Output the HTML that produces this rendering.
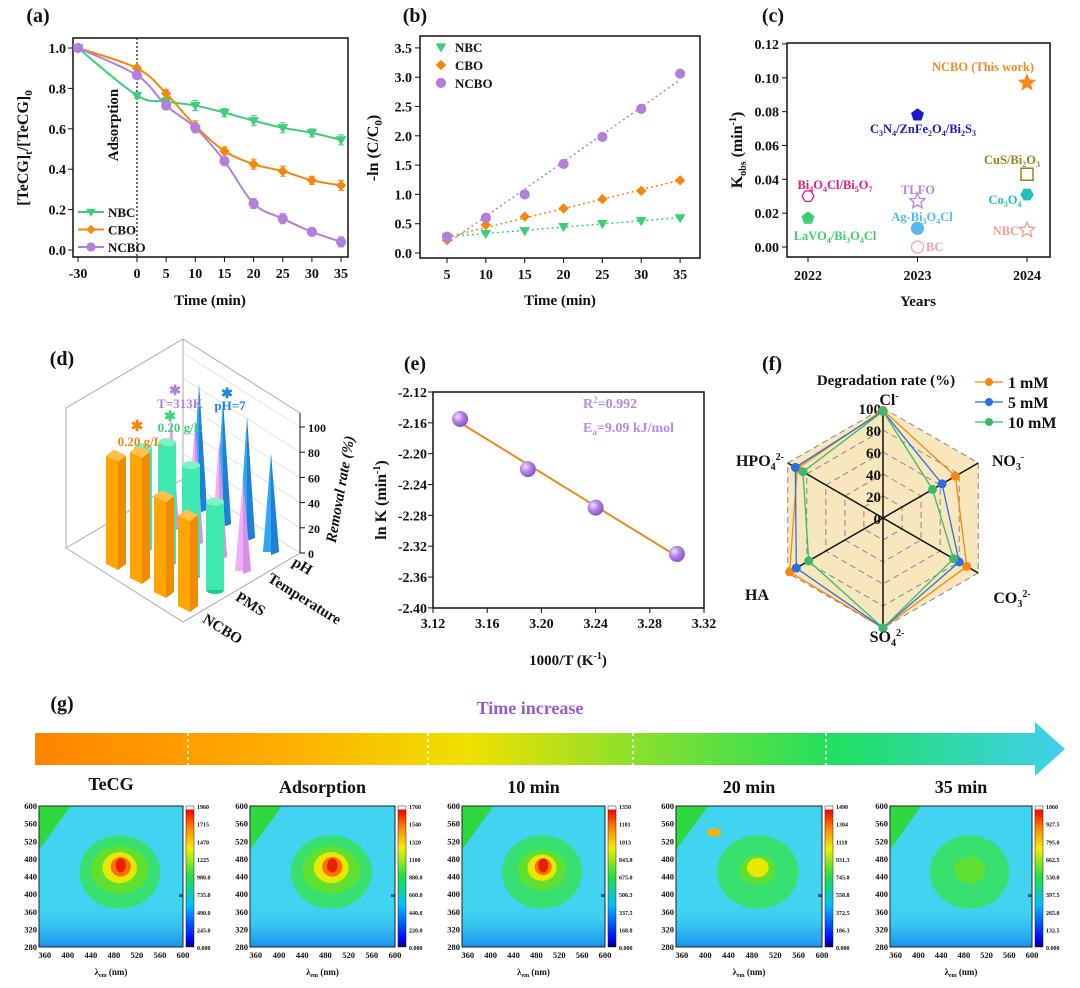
<!DOCTYPE html>
<html><head><meta charset="utf-8">
<style>
html,body{margin:0;padding:0;background:#fff;}
svg{display:block;font-family:"Liberation Serif","Noto Serif CJK SC",serif;font-weight:bold;}
</style></head>
<body>
<svg id="fig" width="1080" height="988" viewBox="0 0 1080 988" xmlns="http://www.w3.org/2000/svg">
<defs>
<linearGradient id="arrowGrad" x1="0" x2="1" y1="0" y2="0">
<stop offset="0" stop-color="#ff8400"/><stop offset="0.25" stop-color="#ffb000"/><stop offset="0.42" stop-color="#f0e000"/><stop offset="0.6" stop-color="#80e030"/><stop offset="0.78" stop-color="#20e060"/><stop offset="1" stop-color="#40d0f0"/>
</linearGradient>
<linearGradient id="cbGrad" x1="0" x2="0" y1="1" y2="0">
<stop offset="0" stop-color="#000060"/><stop offset="0.05" stop-color="#0000ff"/><stop offset="0.3" stop-color="#00c0ff"/><stop offset="0.5" stop-color="#20e040"/><stop offset="0.7" stop-color="#f0f000"/><stop offset="0.85" stop-color="#ff8000"/><stop offset="0.97" stop-color="#ff0000"/><stop offset="0.98" stop-color="#ffffff"/><stop offset="1" stop-color="#ffffff"/>
</linearGradient>
<radialGradient id="sphere" cx="0.35" cy="0.35" r="0.7"><stop offset="0" stop-color="#f0e0ff"/><stop offset="0.5" stop-color="#b080e0"/><stop offset="1" stop-color="#8a50c8"/></radialGradient>
<linearGradient id="bottomBlue" x1="0" x2="0" y1="0" y2="1"><stop offset="0" stop-color="#40d0f0" stop-opacity="0"/><stop offset="1" stop-color="#1890f0"/></linearGradient>
</defs>
<g id="root"></g>
</svg>
<script>
const NS='http://www.w3.org/2000/svg';
const root=document.getElementById('root');
function el(tag,attrs,parent,txt){const e=document.createElementNS(NS,tag);for(const k in attrs)e.setAttribute(k,attrs[k]);if(txt!==undefined)e.textContent=txt;(parent||root).appendChild(e);return e;}
function grp(name,parent){const g=el('g',{},parent);return g;}
function smooth(pts){let d='M'+pts[0][0]+','+pts[0][1];for(let i=0;i<pts.length-1;i++){const p0=pts[i-1]||pts[i],p1=pts[i],p2=pts[i+1],p3=pts[i+2]||p2;const c1=[p1[0]+(p2[0]-p0[0])/6,p1[1]+(p2[1]-p0[1])/6],c2=[p2[0]-(p3[0]-p1[0])/6,p2[1]-(p3[1]-p1[1])/6];d+=' C'+c1+' '+c2+' '+p2;}return d;}
function marker(shape,x,y,r,color,g,fill){
  fill=fill===undefined?color:fill;
  if(shape==='circle')return el('circle',{cx:x,cy:y,r:r,fill:fill,stroke:color,'stroke-width':1.2},g);
  if(shape==='diamond')return el('polygon',{points:`${x},${y-r} ${x+r},${y} ${x},${y+r} ${x-r},${y}`,fill:fill,stroke:color},g);
  if(shape==='tri')return el('polygon',{points:`${x-r},${y-r*0.7} ${x+r},${y-r*0.7} ${x},${y+r}`,fill:fill,stroke:color},g);
  if(shape==='square')return el('rect',{x:x-r,y:y-r,width:2*r,height:2*r,fill:fill,stroke:color,'stroke-width':1.5},g);
  let n=shape==='pent'?5:shape==='hex'?6:10,pts=[];
  for(let i=0;i<n;i++){const a=-Math.PI/2+i*2*Math.PI/n+(shape==='hex'?Math.PI/6:0);const rr=shape==='star'?(i%2?r*0.45:r):r;pts.push((x+rr*Math.cos(a)).toFixed(1)+','+(y+rr*Math.sin(a)).toFixed(1));}
  return el('polygon',{points:pts.join(' '),fill:fill,stroke:color,'stroke-width':1.3},g);
}
function txt(x,y,s,size,g,opt){opt=opt||{};const t=el('text',Object.assign({x:x,y:y,'font-size':size,fill:'#111','text-anchor':'middle'},opt),g,s);return t;}

/* ================= Panel (a) ================= */
const aTimes=[-30,0,5,10,15,20,25,30,35];
const aNBC=[1,0.765,0.735,0.715,0.68,0.64,0.605,0.58,0.545];
const aCBO=[1,0.9,0.775,0.615,0.49,0.425,0.39,0.345,0.32];
const aNCBO=[1,0.865,0.715,0.605,0.44,0.23,0.155,0.09,0.04];
const aErr=[0,0.015,0.02,0.025,0.02,0.025,0.025,0.02,0.025];
const aYTicks=[0,0.2,0.4,0.6,0.8,1.0];
const aXTicks=[-30,0,5,10,15,20,25,30,35];
/* ================= Panel (b) ================= */
const bTimes=[5,10,15,20,25,30,35];
const bNBC=[0.28,0.33,0.38,0.45,0.50,0.55,0.60];
const bCBO=[0.22,0.48,0.62,0.76,0.92,1.06,1.24];
const bNCBO=[0.28,0.60,1.00,1.52,1.98,2.46,3.06];
const bYTicks=[0,0.5,1.0,1.5,2.0,2.5,3.0,3.5];
const bXTicks=[5,10,15,20,25,30,35];
/* ================= Panel (c) ================= */
const cYears=[2024,2023,2024,2024,2024,2022,2022,2023,2023,2023];
const cK=[0.097,0.078,0.043,0.031,0.010,0.030,0.017,0.027,0.011,0.000];
const cYTicks=[0,0.02,0.04,0.06,0.08,0.10,0.12];
const cXTicks=[2022,2023,2024];
/* ================= Panel (d) ================= */
const dSeries=['NCBO','PMS','Temperature','pH'];
const dOrange=[86,100,76,72];
const dGreen=[80,95,88,70];
const dPink=[92,98,94,72];
const dBlue=[100,98,96,78];
const dZTicks=[0,20,40,60,80,100];
/* ================= Panel (e) ================= */
const eX=[3.14,3.19,3.24,3.30];
const eY=[-2.155,-2.22,-2.27,-2.33];
const eYTicks=[-2.12,-2.16,-2.20,-2.24,-2.28,-2.32,-2.36,-2.40];
const eXTicks=[3.12,3.16,3.20,3.24,3.28,3.32];
/* ================= Panel (f) ================= */
const fAxes=['Cl','NO3','CO3','SO4','HA','HPO4'];
const f1mM=[98,76,88,100,98,90];
const f5mM=[97,62,80,100,91,92];
const f10mM=[97,52,74,100,78,84];
const fRTicks=[0,20,40,60,80,100];
/* ================= Panel (g) ================= */
const gTitles=['TeCG','Adsorption','10 min','20 min','35 min'];
const gMax=[1960,1760,1350,1490,1060];
const gPeak=[1.0,1.0,0.85,0.62,0.55];
const gXTicks=[360,400,440,480,520,560,600];
const gYTicks=[280,320,360,400,440,480,520,560,600];

/* ---------- draw (a) ---------- */
(function(){
 const g=grp('panel-a');
 const xA=t=>t<0?78:137+t*5.83, yA=v=>250-v*202;
 txt(38,22,'(a)',20,g);
 el('rect',{x:73,y:38,width:275,height:219,fill:'none',stroke:'#111','stroke-width':1.5},g);
 el('line',{x1:137,y1:38,x2:137,y2:257,stroke:'#111','stroke-dasharray':'2,2','stroke-width':1.2},g);
 txt(118,125,'Adsorption',15,g,{transform:'rotate(-90 118 125)'});
 aYTicks.forEach(v=>{el('line',{x1:73,y1:yA(v),x2:68,y2:yA(v),stroke:'#111'},g);txt(66,yA(v)+5,v.toFixed(1),14,g,{'text-anchor':'end'});});
 aXTicks.forEach(t=>{el('line',{x1:xA(t),y1:257,x2:xA(t),y2:262,stroke:'#111'},g);txt(xA(t),278,String(t),14,g);});
 txt(210,305,'Time (min)',15,g);
 const yt=el('text',{x:28,y:148,'font-size':16,fill:'#111','text-anchor':'middle',transform:'rotate(-90 28 148)'},g);
 yt.innerHTML='[TeCG]<tspan font-size="11" dy="4">t</tspan><tspan dy="-4">/[TeCG]</tspan><tspan font-size="11" dy="4">0</tspan>';
 const ser=[[aNBC,'#3dcf7a','tri','NBC'],[aCBO,'#f5870f','diamond','CBO'],[aNCBO,'#b27fdc','circle','NCBO']];
 ser.forEach((s,si)=>{
  const sg=grp('series-'+s[3].toLowerCase(),g);
  const pts=aTimes.map((t,i)=>[xA(t),yA(s[0][i])]);
  el('path',{d:smooth(pts),fill:'none',stroke:s[1],'stroke-width':2},sg);
  pts.forEach((p,i)=>{const e=aErr[i]*202;if(e){el('line',{x1:p[0],y1:p[1]-e,x2:p[0],y2:p[1]+e,stroke:s[1],'stroke-width':1},sg);el('line',{x1:p[0]-3,y1:p[1]-e,x2:p[0]+3,y2:p[1]-e,stroke:s[1]},sg);el('line',{x1:p[0]-3,y1:p[1]+e,x2:p[0]+3,y2:p[1]+e,stroke:s[1]},sg);}marker(s[2],p[0],p[1],4.5,s[1],sg);});
  const ly=212+si*17.5;const lg=grp('legend-'+s[3].toLowerCase(),g);
  el('line',{x1:78,y1:ly,x2:104,y2:ly,stroke:s[1],'stroke-width':2},lg);marker(s[2],91,ly,4,s[1],lg);
  txt(108,ly+5,s[3],13,lg,{'text-anchor':'start'});
 });
})();

/* ---------- draw (b) ---------- */
(function(){
 const g=grp('panel-b');
 const xB=t=>447+(t-5)*7.77, yB=v=>253-v*58.6;
 txt(415,22,'(b)',20,g);
 el('rect',{x:420,y:36,width:280,height:222,fill:'none',stroke:'#111','stroke-width':1.5},g);
 bYTicks.forEach(v=>{el('line',{x1:420,y1:yB(v),x2:415,y2:yB(v),stroke:'#111'},g);txt(412,yB(v)+5,v.toFixed(1),14,g,{'text-anchor':'end'});});
 bXTicks.forEach(t=>{el('line',{x1:xB(t),y1:258,x2:xB(t),y2:263,stroke:'#111'},g);txt(xB(t),279,String(t),14,g);});
 txt(560,305,'Time (min)',15,g);
 const yt=el('text',{x:378,y:148,'font-size':16,fill:'#111','text-anchor':'middle',transform:'rotate(-90 378 148)'},g);
 yt.innerHTML='-ln (C/C<tspan font-size="11" dy="4">0</tspan><tspan dy="-4">)</tspan>';
 const ser=[[bNBC,'#3dcf7a','tri','NBC'],[bCBO,'#f5870f','diamond','CBO'],[bNCBO,'#b27fdc','circle','NCBO']];
 ser.forEach((s,si)=>{
  const sg=grp('series-b-'+s[3].toLowerCase(),g);
  const n=bTimes.length;let mx=0,my=0;bTimes.forEach((t,i)=>{mx+=t;my+=s[0][i];});mx/=n;my/=n;let sxy=0,sxx=0;bTimes.forEach((t,i)=>{sxy+=(t-mx)*(s[0][i]-my);sxx+=(t-mx)*(t-mx);});const sl=sxy/sxx,ic=my-sl*mx;
  el('line',{x1:xB(5),y1:yB(ic+sl*5),x2:xB(35),y2:yB(ic+sl*35),stroke:s[1],'stroke-width':1.5,'stroke-dasharray':'2,3'},sg);
  bTimes.forEach((t,i)=>marker(s[2],xB(t),yB(s[0][i]),4.5,s[1],sg));
  const ly=47+si*18;const lg=grp('legend-b-'+s[3].toLowerCase(),g);
  marker(s[2],441,ly,4.5,s[1],lg);txt(455,ly+5,s[3],13,lg,{'text-anchor':'start'});
 });
})();

/* ---------- draw (c) ---------- */
(function(){
 const g=grp('panel-c');
 const xC=y=>808+(y-2022)*109.5, yC=v=>247-v*1692;
 txt(773,22,'(c)',20,g);
 el('rect',{x:787,y:43,width:263,height:214,fill:'none',stroke:'#111','stroke-width':1.5},g);
 cYTicks.forEach(v=>{el('line',{x1:787,y1:yC(v),x2:782,y2:yC(v),stroke:'#111'},g);txt(779,yC(v)+5,v.toFixed(2),14,g,{'text-anchor':'end'});});
 cXTicks.forEach(t=>{el('line',{x1:xC(t),y1:257,x2:xC(t),y2:262,stroke:'#111'},g);txt(xC(t),280,String(t),14,g);});
 txt(918,306,'Years',15,g);
 const yt=el('text',{x:742,y:150,'font-size':16,fill:'#111','text-anchor':'middle',transform:'rotate(-90 742 150)'},g);
 yt.innerHTML='K<tspan font-size="10" dy="4">obs</tspan><tspan dy="-4"> (min</tspan><tspan font-size="10" dy="-6">-1</tspan><tspan dy="6">)</tspan>';
 const meta=[
  ['#f28a1e','star',1,'NCBO (This work)',983,71,'middle'],
  ['#1a1acc','pent',1,'C<tspan font-size="8" dy="3">3</tspan><tspan dy="-3">N</tspan><tspan font-size="8" dy="3">4</tspan><tspan dy="-3">/ZnFe</tspan><tspan font-size="8" dy="3">2</tspan><tspan dy="-3">O</tspan><tspan font-size="8" dy="3">4</tspan><tspan dy="-3">/Bi</tspan><tspan font-size="8" dy="3">2</tspan><tspan dy="-3">S</tspan><tspan font-size="8" dy="3">3</tspan>',923,133,'middle'],
  ['#8a8a1a','square',0,'CuS/Bi<tspan font-size="8" dy="3">2</tspan><tspan dy="-3">O</tspan><tspan font-size="8" dy="3">3</tspan>',1012,164,'middle'],
  ['#1fbfbf','hex',1,'Co<tspan font-size="8" dy="3">3</tspan><tspan dy="-3">O</tspan><tspan font-size="8" dy="3">4</tspan>',1005,204,'middle'],
  ['#f0a090','star',0,'NBC',1019,235,'end'],
  ['#e0207f','hex',0,'Bi<tspan font-size="8" dy="3">4</tspan><tspan dy="-3">O</tspan><tspan font-size="8" dy="3">4</tspan><tspan dy="-3">Cl/Bi</tspan><tspan font-size="8" dy="3">5</tspan><tspan dy="-3">O</tspan><tspan font-size="8" dy="3">7</tspan>',835,189,'middle'],
  ['#3ccf70','pent',1,'LaVO<tspan font-size="8" dy="3">4</tspan><tspan dy="-3">/Bi</tspan><tspan font-size="8" dy="3">3</tspan><tspan dy="-3">O</tspan><tspan font-size="8" dy="3">4</tspan><tspan dy="-3">Cl</tspan>',835,240,'middle'],
  ['#c080e0','star',0,'TLFO',918,194,'middle'],
  ['#5ab8f0','circle',1,'Ag-Bi<tspan font-size="8" dy="3">3</tspan><tspan dy="-3">O</tspan><tspan font-size="8" dy="3">4</tspan><tspan dy="-3">Cl</tspan>',922,221,'middle'],
  ['#f0a0a0','circle',0,'BC',926,251,'start']
 ];
 cK.forEach((k,i)=>{
  const m=meta[i];const pg=grp('point-'+i,g);
  marker(m[1],xC(cYears[i]),yC(k),m[1]==='star'?8:6,m[0],pg,m[2]?m[0]:'#fff');
  const t=el('text',{x:m[4],y:m[5],'font-size':12.5,fill:m[0],'text-anchor':m[6]},pg);t.innerHTML=m[3];
 });
})();

/* ---------- draw (d) ---------- */
(function(){
 const g=grp('panel-d');
 txt(62,365,'(d)',20,g);
 const SX=28,SY=-19,IX=24,IY=14,B0=[115,567],H=1.26;
 const base=(i,j)=>[B0[0]+i*SX+j*IX,B0[1]+i*SY+j*IY];
 const bx=grp('3d-box',g);const c='#aaa';
 const L=[66,548],F=[183,622],R=[300,553],K=[183,479],VH=140;
 el('polygon',{points:[L,F,R,K].map(p=>p.join(',')).join(' '),fill:'none',stroke:c},bx);
 [L,K,R].forEach(p=>el('line',{x1:p[0],y1:p[1],x2:p[0],y2:p[1]-VH,stroke:c},bx));
 el('line',{x1:L[0],y1:L[1]-VH,x2:K[0],y2:K[1]-VH,stroke:c},bx);
 el('line',{x1:K[0],y1:K[1]-VH,x2:R[0],y2:R[1]-VH,stroke:c},bx);
 dZTicks.forEach(v=>{const yy=R[1]-v*H;el('line',{x1:R[0],y1:yy,x2:K[0],y2:K[1]-v*H,stroke:'#e4e4e4'},bx);el('line',{x1:R[0],y1:yy,x2:R[0]+5,y2:yy,stroke:'#111'},bx);txt(R[0]+8,yy+5,String(v),12,bx,{'text-anchor':'start'});});
 el('line',{x1:R[0],y1:R[1],x2:R[0],y2:R[1]-VH,stroke:'#111'},bx);
 const drawBar=(vals,i,kind,c1,c2)=>{
  const sg=grp('series-'+dSeries[i].toLowerCase()+'-bars',g);
  vals.forEach((v,j)=>{
   const [x,y]=base(i,j);const h=v*H;
   if(kind==='bar'){el('polygon',{points:`${x-9},${y-3} ${x+3},${y+3} ${x+3},${y+3-h} ${x-9},${y-3-h}`,fill:c1},sg);el('polygon',{points:`${x+3},${y+3} ${x+11},${y-3} ${x+11},${y-3-h} ${x+3},${y+3-h}`,fill:c2},sg);el('polygon',{points:`${x-9},${y-3-h} ${x+3},${y+3-h} ${x+11},${y-3-h} ${x-1},${y-9-h}`,fill:'#ffc04a'},sg);}
   else if(kind==='cyl'){el('ellipse',{cx:x,cy:y,rx:9,ry:4,fill:c2},sg);el('rect',{x:x-9,y:y-h,width:18,height:h,fill:c1},sg);el('ellipse',{cx:x,cy:y-h,rx:9,ry:4,fill:'#7ff0c8'},sg);}
   else{el('polygon',{points:`${x-8},${y} ${x},${y-h} ${x+8},${y}`,fill:c1},sg);el('polygon',{points:`${x},${y+3} ${x},${y-h} ${x+8},${y}`,fill:c2},sg);}
  });
 };
 drawBar(dBlue,3,'cone','#2fa8f0','#1a80d8');
 drawBar(dPink,2,'cone','#f0b0f8','#d890e8');
 drawBar(dGreen,1,'cyl','#3fe8b0','#20c890');
 drawBar(dOrange,0,'bar','#ffa500','#f08a00');
 txt(137,431,'✱',15,g,{fill:'#f5870f'});txt(140,446,'0.20 g/L',13,g,{fill:'#f5870f'});
 txt(170,421,'✱',14,g,{fill:'#3dcf7a'});txt(180,432,'0.20 g/L',13,g,{fill:'#3dcf7a'});
 txt(175,395,'✱',14,g,{fill:'#b27fdc'});txt(180,408,'T=313K',13,g,{fill:'#b27fdc'});
 txt(227,398,'✱',14,g,{fill:'#1a88e0'});txt(230,410,'pH=7',13,g,{fill:'#1a88e0'});
 txt(220,633,'NCBO',15,g,{transform:'rotate(32 220 633)'});
 txt(248,608,'PMS',15,g,{transform:'rotate(32 248 608)'});
 txt(302,603,'Temperature',15,g,{transform:'rotate(32 302 603)'});
 txt(300,570,'pH',15,g,{transform:'rotate(32 300 570)'});
 txt(345,490,'Removal rate (%)',15,g,{'font-style':'italic',transform:'rotate(-80 345 490)'});
})();

/* ---------- draw (e) ---------- */
(function(){
 const g=grp('panel-e');
 const xE=v=>433+(v-3.12)*1355, yE=v=>392+(-2.12-v)*771;
 txt(415,370,'(e)',20,g);
 el('rect',{x:433,y:392,width:271,height:216,fill:'none',stroke:'#111','stroke-width':1.5},g);
 eYTicks.forEach(v=>{el('line',{x1:433,y1:yE(v),x2:428,y2:yE(v),stroke:'#111'},g);txt(427,yE(v)+5,v.toFixed(2),14,g,{'text-anchor':'end'});});
 eXTicks.forEach(v=>{el('line',{x1:xE(v),y1:608,x2:xE(v),y2:613,stroke:'#111'},g);txt(xE(v),628,v.toFixed(2),14,g);});
 const xt=el('text',{x:568,y:665,'font-size':15,fill:'#111','text-anchor':'middle'},g);xt.innerHTML='1000/T (K<tspan font-size="10" dy="-6">-1</tspan><tspan dy="6">)</tspan>';
 const yt=el('text',{x:386,y:500,'font-size':16,fill:'#111','text-anchor':'middle',transform:'rotate(-90 386 500)'},g);yt.innerHTML='ln K (min<tspan font-size="10" dy="-6">-1</tspan><tspan dy="6">)</tspan>';
 let n=eX.length,mx=0,my=0;eX.forEach((x,i)=>{mx+=x;my+=eY[i];});mx/=n;my/=n;let sxy=0,sxx=0;eX.forEach((x,i)=>{sxy+=(x-mx)*(eY[i]-my);sxx+=(x-mx)**2;});const sl=sxy/sxx,ic=my-sl*mx;
 el('line',{x1:xE(3.14),y1:yE(ic+sl*3.14),x2:xE(3.30),y2:yE(ic+sl*3.30),stroke:'#f08a20','stroke-width':2},g);
 eX.forEach((x,i)=>{const c=el('circle',{cx:xE(x),cy:yE(eY[i]),r:8,fill:'url(#sphere)'},g);});
 const r=el('text',{x:583,y:408,'font-size':14,fill:'#b38be0','text-anchor':'start'},g);r.innerHTML='R<tspan font-size="9" dy="-5">2</tspan><tspan dy="5">=0.992</tspan>';
 const ea=el('text',{x:583,y:432,'font-size':14,fill:'#b38be0','text-anchor':'start'},g);ea.innerHTML='E<tspan font-size="9" dy="3">a</tspan><tspan dy="-3">=9.09 kJ/mol</tspan>';
})();

/* ---------- draw (f) ---------- */
(function(){
 const g=grp('panel-f');
 const cx=883,cy=518,R=110;
 const ang=i=>-Math.PI/2+i*Math.PI/3;
 const pt=(i,v)=>[cx+R*v/100*Math.cos(ang(i)),cy+R*v/100*Math.sin(ang(i))];
 txt(772,370,'(f)',20,g);
 const hex=v=>fAxes.map((a,i)=>pt(i,v).map(n=>n.toFixed(1)).join(',')).join(' ');
 el('polygon',{points:hex(100),fill:'#f8e6bc',stroke:'#888','stroke-dasharray':'6,4'},g);
 fRTicks.slice(1,-1).forEach(v=>el('polygon',{points:hex(v),fill:'none',stroke:'#888','stroke-dasharray':'6,4'},g));
 fAxes.forEach((a,i)=>{const p=pt(i,100);el('line',{x1:cx,y1:cy,x2:p[0],y2:p[1],stroke:'#111','stroke-width':1.5},g);});
 fRTicks.forEach(v=>txt(cx-2,cy-R*v/100+6,String(v),15,g,{'text-anchor':'end'}));
 const ser=[[f1mM,'#f5870f','1 mM'],[f5mM,'#2a6fe0','5 mM'],[f10mM,'#3cb86a','10 mM']];
 ser.forEach((s,si)=>{
  const sg=grp('radar-'+s[2].replace(' ','').toLowerCase(),g);
  el('polygon',{points:s[0].map((v,i)=>pt(i,v).join(',')).join(' '),fill:'none',stroke:s[1],'stroke-width':1.3},sg);
  s[0].forEach((v,i)=>{const p=pt(i,v);el('circle',{cx:p[0],cy:p[1],r:4.5,fill:s[1]},sg);});
  const ly=382+si*20;const lg=grp('legend-f-'+si,g);
  el('line',{x1:975,y1:ly,x2:1003,y2:ly,stroke:s[1],'stroke-width':1.3},lg);el('circle',{cx:989,cy:ly,r:4,fill:s[1]},lg);
  txt(1008,ly+6,s[2],16,lg,{'text-anchor':'start'});
 });
 txt(886,385,'Degradation rate (%)',15,g);
 const lab=[[889,405,'Cl<tspan font-size="10" dy="-6">-</tspan>'],[1008,466,'NO<tspan font-size="10" dy="4">3</tspan><tspan font-size="10" dy="-10">-</tspan>'],[1012,603,'CO<tspan font-size="10" dy="4">3</tspan><tspan font-size="10" dy="-10">2-</tspan>'],[887,642,'SO<tspan font-size="10" dy="4">4</tspan><tspan font-size="10" dy="-10">2-</tspan>'],[757,600,'HA'],[760,466,'HPO<tspan font-size="10" dy="4">4</tspan><tspan font-size="10" dy="-10">2-</tspan>']];
 lab.forEach(l=>{const t=el('text',{x:l[0],y:l[1],'font-size':16,fill:'#111','text-anchor':'middle'},g);t.innerHTML=l[2];});
})();

/* ---------- draw (g) ---------- */
(function(){
 const g=grp('panel-g');
 txt(62,710,'(g)',20,g);
 txt(530,714,'Time increase',18,g,{fill:'#9a5cc8'});
 const ar=grp('time-arrow',g);
 el('polygon',{points:'35,733 1035,733 1035,722 1065,749 1035,776 1035,765 35,765',fill:'url(#arrowGrad)'},ar);
 [188,428,633,826].forEach(x=>el('line',{x1:x,y1:733,x2:x,y2:765,stroke:'#fff','stroke-width':1.5,'stroke-dasharray':'3,3'},ar));
 const px=[39,250,462,676,890];const pw=[144,145,143,146,142];
 gTitles.forEach((t,k)=>{
  const hg=grp('heatmap-'+t.replace(' ','-').toLowerCase(),g);
  const x0=px[k],w=pw[k],y0=806,h=141;
  const xs=v=>x0+(v-350)/250*w, ys=v=>y0+h-(v-280)/320*h;
  txt(x0+w/2,(k===0?790:793),t,18,hg);
  el('rect',{x:x0,y:y0,width:w,height:h,fill:'#40d4f0'},hg);
  el('rect',{x:x0,y:ys(380),width:w,height:ys(280)-ys(380),fill:'url(#bottomBlue)'},hg);
  el('polygon',{points:`${x0},${y0} ${xs(405)},${y0} ${x0},${ys(500)}`,fill:'#30d840'},hg);
  const p=gPeak[k];
  el('ellipse',{cx:xs(490),cy:ys(450),rx:w*0.28,ry:h*0.26,fill:'#38e070'},hg);
  el('ellipse',{cx:xs(490),cy:ys(455),rx:w*0.2*p,ry:h*0.17*p,fill:'#60e030'},hg);
  if(p>0.6){el('ellipse',{cx:xs(490),cy:ys(460),rx:w*0.12*p,ry:h*0.11*p,fill:'#e8e800'},hg);}
  if(p>0.8){el('ellipse',{cx:xs(492),cy:ys(462),rx:w*0.07*p,ry:h*0.07*p,fill:'#ff7000'},hg);el('ellipse',{cx:xs(492),cy:ys(465),rx:w*0.035,ry:h*0.05,fill:'#e82000'},hg);}
  if(k===3){el('ellipse',{cx:xs(415),cy:ys(540),rx:7,ry:4,fill:'#ffb000'},hg);}
  el('rect',{x:x0+w-4,y:ys(400),width:4,height:ys(280)-ys(400)-50,fill:'#1850d0'},hg);
  el('rect',{x:x0,y:y0,width:w,height:h,fill:'none',stroke:'#222','stroke-width':1},hg);
  gYTicks.forEach(v=>txt(x0-2,ys(v)+3,String(v),8.5,hg,{'text-anchor':'end'}));
  gXTicks.forEach(v=>txt(xs(v),y0+h+11,String(v),8.5,hg));
  const xt=el('text',{x:x0+w/2,y:y0+h+28,'font-size':9,fill:'#111','text-anchor':'middle'},hg);xt.innerHTML='λ<tspan font-size="6" dy="2">em</tspan><tspan dy="-2"> (nm)</tspan>';
  const cbx=x0+w+3;
  el('rect',{x:cbx,y:y0,width:8,height:h,fill:'url(#cbGrad)',stroke:'#222','stroke-width':0.5},hg);
  for(let i=0;i<=8;i++){const v=gMax[k]*i/8;txt(cbx+11,y0+h-i*h/8+3,i===0?'0.000':(v>=1000?v.toFixed(0):v.toFixed(1)),6,hg,{'text-anchor':'start'});}
 });
})();
</script>
</body></html>
